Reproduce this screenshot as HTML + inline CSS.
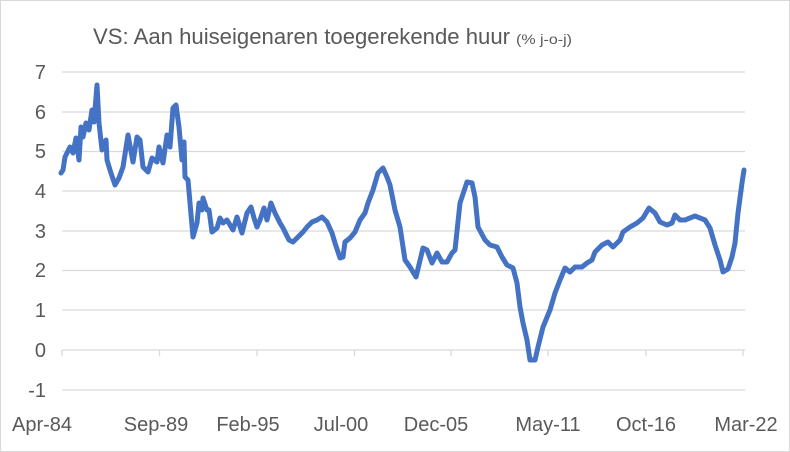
<!DOCTYPE html>
<html><head><meta charset="utf-8"><style>
html,body{margin:0;padding:0;background:#fff;}
svg{display:block;font-family:"Liberation Sans",sans-serif;}
</style></head><body>
<svg width="790" height="452" viewBox="0 0 790 452">
<rect x="0.5" y="0.5" width="789" height="451" fill="#fff" stroke="#d9d9d9"/>
<text x="93" y="44" font-size="22" fill="#595959" textLength="417" lengthAdjust="spacingAndGlyphs">VS: Aan huiseigenaren toegerekende huur</text>
<text x="516" y="44" font-size="14" fill="#595959" textLength="56" lengthAdjust="spacingAndGlyphs">(% j-o-j)</text>
<g stroke="#d9d9d9" stroke-width="1.3">
<line x1="62" x2="745" y1="72" y2="72"/>
<line x1="62" x2="745" y1="112" y2="112"/>
<line x1="62" x2="745" y1="151.5" y2="151.5"/>
<line x1="62" x2="745" y1="191" y2="191"/>
<line x1="62" x2="745" y1="231" y2="231"/>
<line x1="62" x2="745" y1="270.5" y2="270.5"/>
<line x1="62" x2="745" y1="310" y2="310"/>
<line x1="62" x2="745" y1="350" y2="350"/>
<line x1="62" x2="745" y1="390" y2="390"/>
<line x1="62" x2="62" y1="350" y2="356"/>
<line x1="159.5" x2="159.5" y1="350" y2="356"/>
<line x1="257" x2="257" y1="350" y2="356"/>
<line x1="354.5" x2="354.5" y1="350" y2="356"/>
<line x1="451" x2="451" y1="350" y2="356"/>
<line x1="548" x2="548" y1="350" y2="356"/>
<line x1="646" x2="646" y1="350" y2="356"/>
<line x1="743" x2="743" y1="350" y2="356"/>
</g>
<g font-size="20" fill="#595959" text-anchor="end">
<text x="46" y="79">7</text><text x="46" y="119">6</text><text x="46" y="158">5</text>
<text x="46" y="198">4</text><text x="46" y="238">3</text><text x="46" y="277">2</text>
<text x="46" y="317">1</text><text x="46" y="357">0</text><text x="46" y="397">-1</text>
</g>
<g font-size="20" fill="#595959" text-anchor="middle">
<text x="42" y="431">Apr-84</text><text x="156" y="431">Sep-89</text><text x="248" y="431">Feb-95</text>
<text x="341" y="431">Jul-00</text><text x="436" y="431">Dec-05</text><text x="548" y="431">May-11</text>
<text x="646" y="431">Oct-16</text><text x="746" y="431">Mar-22</text>
</g>
<polyline fill="none" stroke="#4472c4" stroke-width="5" stroke-linejoin="round" stroke-linecap="round" points="
61,173 63,170 65,157 70,147 73,153 76,138 79,160 81,127 83,137 86,123 89,130 92,110 94,122 97,85 99,123 102,150 106,140 107,160 110,170 115,185 119,178 123,167 128,135 133,162 137,137 140,140 143,167 148,172 152,158 157,162 159,147 163,163 167,135 170,147 173,108 176,105 179,127 182,160 184,142 185,177 188,180 193,237 197,223 199,203 202,210 203,198 207,210 209,210 212,232 217,228 220,218 223,223 227,220 230,225 233,230 237,217 242,233 247,213 251,207 254,218 257,227 260,220 264,208 267,220 271,203 275,213 280,223 283,228 289,240 293,242 298,237 303,232 307,227 312,222 317,220 322,217 327,222 332,233 335,243 340,258 343,257 345,242 350,238 355,232 360,220 365,213 368,203 373,190 378,173 383,168 387,177 390,185 395,210 400,227 405,260 410,267 416,277 423,248 427,250 432,263 437,253 442,262 447,262 452,253 455,250 460,203 467,182 472,183 475,197 478,227 485,240 490,245 497,247 502,257 507,265 513,268 517,283 520,307 523,323 527,340 530,360 535,360 538,347 543,327 550,310 555,293 560,280 565,268 570,272 575,267 582,267 587,263 592,260 595,252 602,245 608,242 613,247 620,240 623,232 630,227 637,223 643,218 649,208 655,213 660,222 667,225 672,223 675,215 680,220 685,220 690,218 695,216 700,218 705,220 710,228 715,245 720,260 723,272 728,269 732,257 735,243 738,213 742,183 744,170"/>
</svg>
</body></html>
